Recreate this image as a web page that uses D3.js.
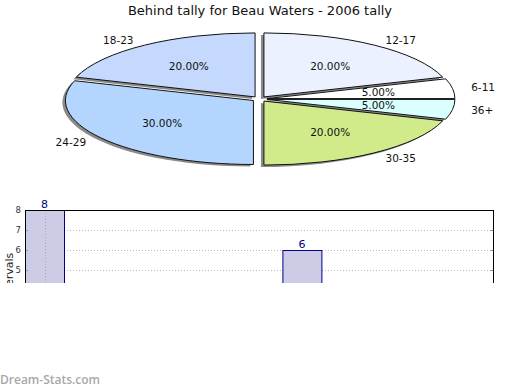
<!DOCTYPE html>
<html><head><meta charset="utf-8">
<script src="https://cdn.jsdelivr.net/npm/d3@7"></script>
<style>body{margin:0;background:#fff}svg{display:block}</style>
</head><body>
<svg id="c" width="520" height="390"></svg>
<script>
// ---- data ----
const title = "Behind tally for Beau Waters - 2006 tally";
const pieLabels = ["12-17","6-11","36+","30-35","24-29","18-23"];
const pieValues = [20, 5, 5, 20, 30, 20];
const pieColors = ["#ebf1fe","#ffffff","#daffff","#d1eb8b","#b4d6fe","#c5d8fe"];

const barStarts = [0, 6.6];
const barValues = [8, 6];
const yTicks = [5,6,7,8];
const yLabel = "# of Intervals";
const watermark = "Dream-Stats.com";

const svg = d3.select("#c");
const font = "DejaVu Sans, sans-serif";

svg.append("text").attr("x",260).attr("y",15).attr("text-anchor","middle")
  .attr("font-family",font).attr("font-size",13).attr("fill","#111").text(title);

// ---- pie ----
const cx=259.5, cy=99, rx=188, ry=64, k=ry/rx, ex=7.5;
const total = d3.sum(pieValues);
const arcs = d3.pie().sort(null).value(d=>d)(pieValues);
const arc = d3.arc().innerRadius(0).outerRadius(rx);
const pg = svg.append("g");
function off(a){ const m=(a.startAngle+a.endAngle)/2; return [cx+ex*Math.sin(m), cy-ex*Math.cos(m)*k]; }
// shadows
arcs.forEach((a,i)=>{
  const [ox,oy]=off(a);
  pg.append("path").attr("d",arc(a))
    .attr("transform",`translate(${ox-3},${oy+2}) scale(1,${k})`)
    .attr("fill","#8a8a8a");
});
arcs.forEach((a,i)=>{
  const [ox,oy]=off(a);
  pg.append("path").attr("d",arc(a))
    .attr("transform",`translate(${ox},${oy}) scale(1,${k})`)
    .attr("fill",pieColors[i]).attr("stroke","#111").attr("stroke-width",1)
    .attr("vector-effect","non-scaling-stroke");
});
arcs.forEach((a,i)=>{
  const [ox,oy]=off(a);
  const m=(a.startAngle+a.endAngle)/2;
  const s=Math.sin(m), c=Math.cos(m);
  pg.append("text").attr("x",ox+rx*0.6*s).attr("y",oy-ry*0.6*c)
    .attr("text-anchor","middle").attr("dy","0.35em")
    .attr("font-family",font).attr("font-size",10.5).attr("fill","#111")
    .text((pieValues[i]/total*100).toFixed(2)+"%");
  pg.append("text").attr("x",ox+rx*1.1*s).attr("y",oy-ry*1.1*c)
    .attr("text-anchor", s>=0?"start":"end").attr("dy","0.35em")
    .attr("font-family",font).attr("font-size",10.5).attr("fill","#111")
    .text(pieLabels[i]);
});

// ---- bar chart (clipped) ----
const L=25,R=493,T=210,B=370;
svg.append("clipPath").attr("id","clip").append("rect")
  .attr("x",0).attr("y",0).attr("width",520).attr("height",283);
const bg = svg.append("g").attr("clip-path","url(#clip)");
const x = d3.scaleLinear().domain([0,12]).range([L,R]);
const y = d3.scaleLinear().domain([0,8]).range([B,T]);

// horizontal grid
bg.selectAll(".hg").data(yTicks.filter(t=>t<8)).enter().append("line")
  .attr("x1",L).attr("x2",R).attr("y1",d=>y(d)+0.5).attr("y2",d=>y(d)+0.5)
  .attr("stroke","#bbb").attr("stroke-dasharray","1,2");
// bars
bg.selectAll(".bar").data(barValues).enter().append("rect")
  .attr("x",(d,i)=>x(barStarts[i])+0.5).attr("width",(d,i)=>x(barStarts[i]+1)-x(barStarts[i]))
  .attr("y",d=>y(d)+0.5).attr("height",d=>B-y(d))
  .attr("fill","#ccccE6").attr("stroke","#000080").attr("stroke-width",1);
// vertical grid at first bar center
bg.append("line").attr("x1",Math.round(x(barStarts[0]+0.5))+0.5).attr("x2",Math.round(x(barStarts[0]+0.5))+0.5)
  .attr("y1",T).attr("y2",B).attr("stroke","#aaa").attr("stroke-dasharray","1,2");
// value labels
bg.selectAll(".vl").data(barValues).enter().append("text")
  .attr("x",(d,i)=>x(barStarts[i]+0.5)).attr("y",d=>y(d)-2)
  .attr("text-anchor","middle").attr("font-family",font).attr("font-size",11)
  .attr("fill","#000080").text(d=>d);
// tick marks left and right
bg.selectAll(".tl").data(yTicks).enter().append("line")
  .attr("x1",L).attr("x2",L+3).attr("y1",d=>y(d)+0.5).attr("y2",d=>y(d)+0.5).attr("stroke","#999");
bg.selectAll(".tr").data(yTicks).enter().append("line")
  .attr("x1",R-3).attr("x2",R).attr("y1",d=>y(d)+0.5).attr("y2",d=>y(d)+0.5).attr("stroke","#999");
// frame
bg.append("rect").attr("x",L+0.5).attr("y",T+0.5).attr("width",R-L).attr("height",B-T)
  .attr("fill","none").attr("stroke","#000").attr("stroke-width",1);
// y tick labels
bg.selectAll(".yl").data(yTicks).enter().append("text")
  .attr("x",L-4).attr("y",d=>y(d)).attr("dy","0.35em").attr("text-anchor","end")
  .attr("font-family",font).attr("font-size",8.5).attr("fill","#333").text(d=>d);
// y axis label
bg.append("text").attr("transform",`translate(13,${(T+B)/2}) rotate(-90)`)
  .attr("text-anchor","middle").attr("font-family",font).attr("font-size",11)
  .attr("fill","#222").text(yLabel);

// watermark
svg.append("text").attr("x",0).attr("y",384).attr("font-family","Open Sans, sans-serif")
  .attr("font-size",12).attr("font-weight",600).attr("fill","#a8a8a8").text(watermark);
</script>
</body></html>
